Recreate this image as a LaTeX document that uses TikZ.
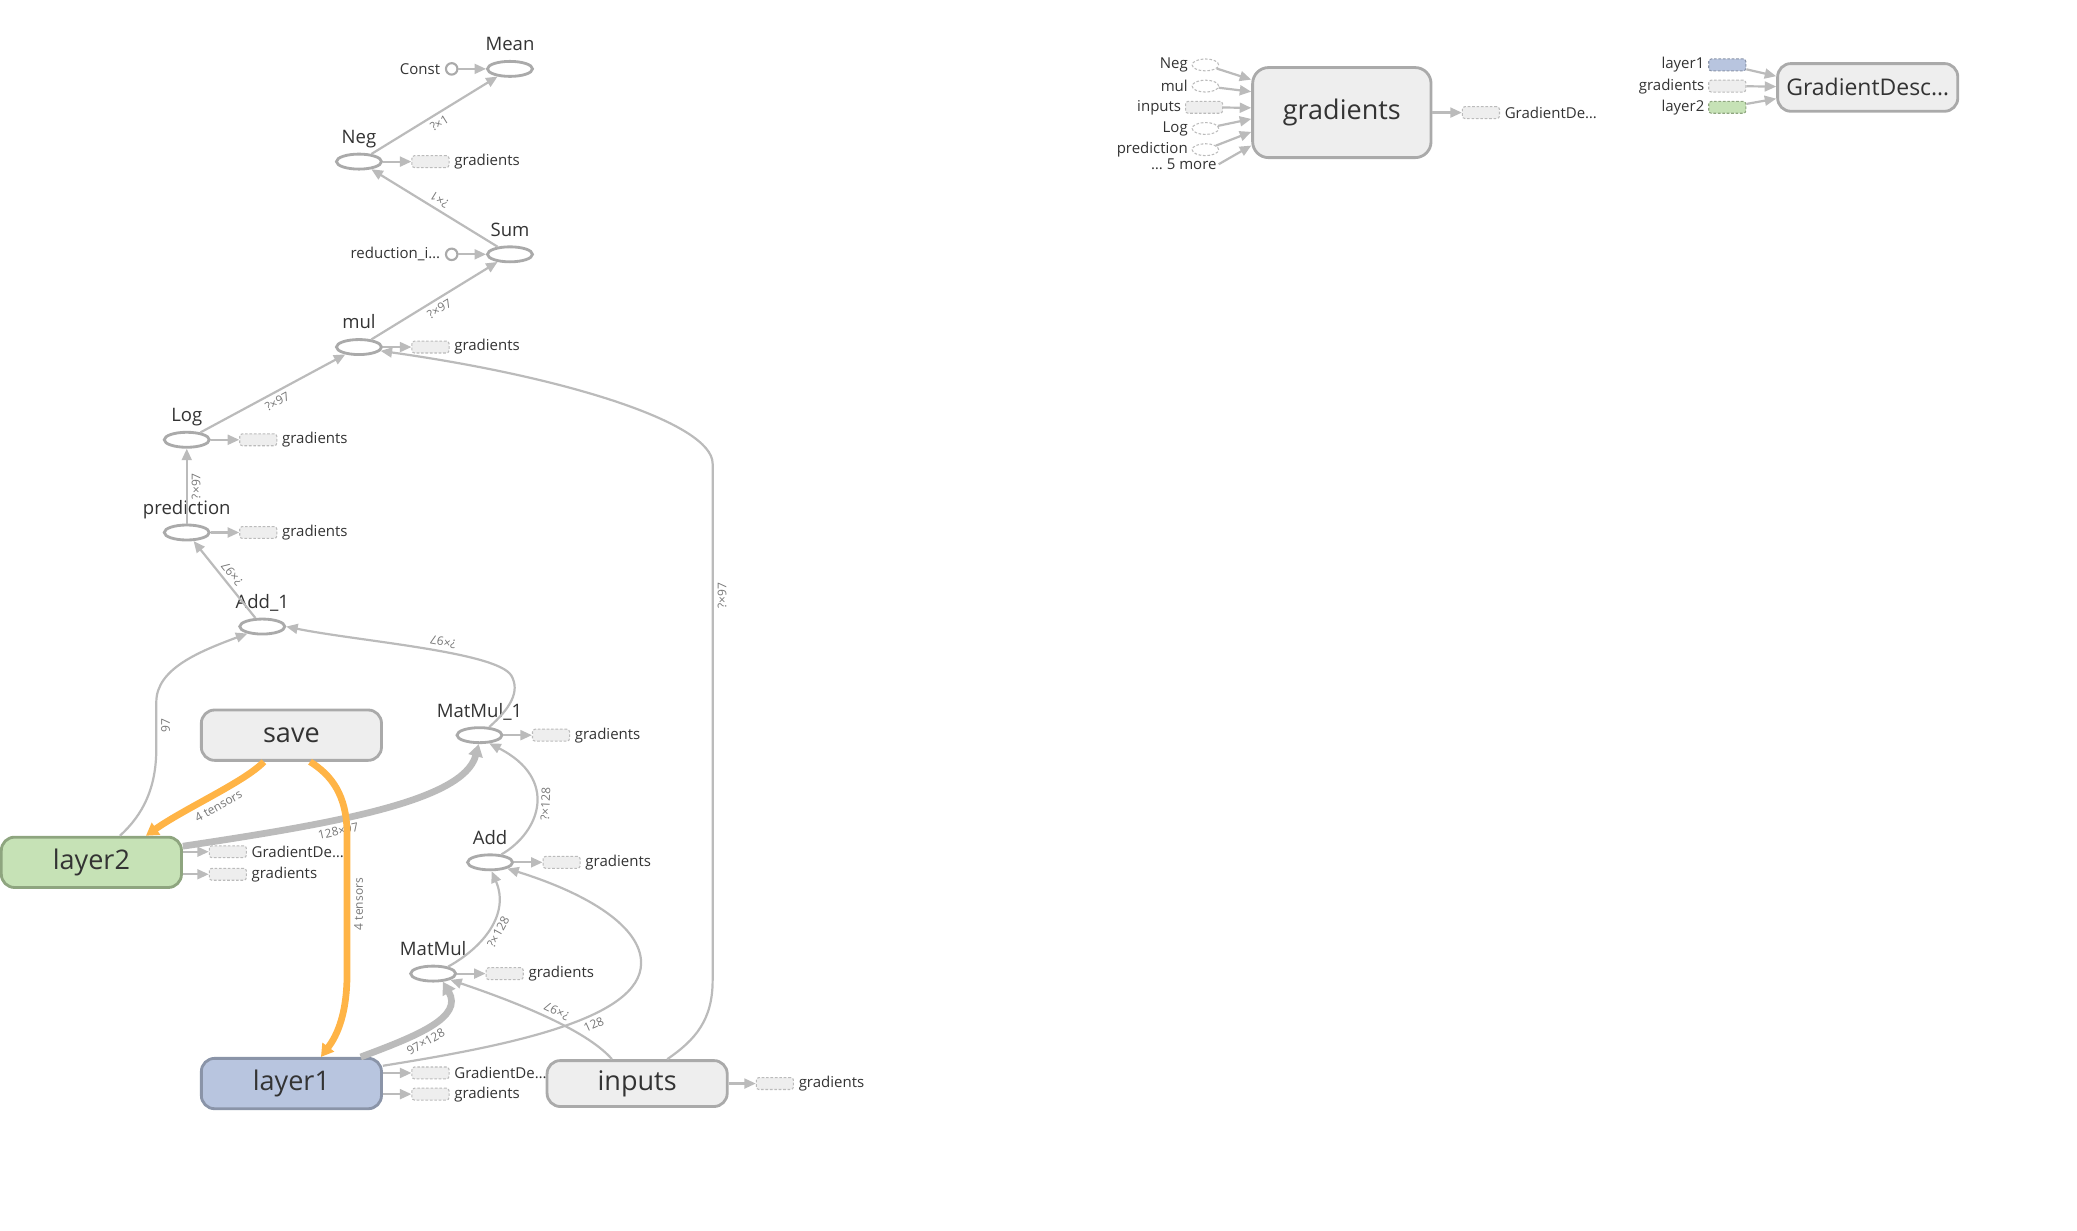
\documentclass[tikz,border=0pt]{standalone}
\usepackage{fontspec}
\setmainfont{Open Sans}
\usepackage{xcolor}
\usepackage{tikz}
\usetikzlibrary{arrows.meta, positioning, shapes.geometric}

\definecolor{edgegray}{HTML}{BBBBBB}
\definecolor{nodegray}{HTML}{AAAAAA}
\definecolor{boxfill}{HTML}{EEEEEE}
\definecolor{txtgray}{HTML}{333333}
\definecolor{labgray}{HTML}{777777}
\definecolor{ctrlorange}{HTML}{FFB446}
\definecolor{l1fill}{HTML}{B8C5DF}
\definecolor{l1line}{HTML}{8A94A8}
\definecolor{l2fill}{HTML}{C6E2B6}
\definecolor{l2line}{HTML}{8EA57F}

\begin{document}
\begin{tikzpicture}[x=0.75pt, y=-0.75pt,
    op/.style={draw=nodegray, ellipse, fill=white, line width=1.6pt, minimum width=25.5pt, minimum height=8.5pt, inner sep=0pt},
    cst/.style={draw=nodegray, circle, fill=white, line width=1.2pt, minimum size=6.5pt, inner sep=0pt},
    grect/.style={draw=nodegray!80, dash pattern=on 1.5pt off 1pt, fill=boxfill, rounded corners=1.5pt, line width=0.6pt, minimum width=21pt, minimum height=6.75pt, inner sep=0pt},
    gell/.style={draw=nodegray!80, dash pattern=on 1.5pt off 1pt, ellipse, fill=white, line width=0.6pt, minimum width=15pt, minimum height=6.75pt, inner sep=0pt},
    grp/.style={draw=nodegray, fill=boxfill, rounded corners=7.5pt, line width=1.6pt, minimum width=102pt, minimum height=28.5pt, font=\fontsize{15.3}{18}\selectfont, text=txtgray},
    ttl/.style={font=\fontsize{10.5}{12}\selectfont, text=txtgray, inner sep=1pt, text depth=0pt},
    sml/.style={font=\fontsize{8.5}{10}\selectfont, text=txtgray, inner sep=1pt},
    flow/.style={draw=edgegray, line width=1.25pt, -{Triangle[length=6.5pt, width=5.6pt]}},
    thk/.style={draw=edgegray, line width=3.8pt, -{Triangle[length=7pt, width=8pt]}},
    ctl/.style={draw=ctrlorange, line width=3.8pt, -{Triangle[length=7pt, width=8pt]}},
    elab/.style={font=\fontsize{6.8}{8}\selectfont, text=labgray, sloped, below, inner sep=2.2pt}
]
    \useasboundingbox (0,0) rectangle (1568,929);

    % === Loss chain (top left) ===
    \node[op] (mean) at (385,52) {};
    \node[ttl, above=4pt of mean] (meanT) {Mean};
    \node[cst] (const) at (341,52) {};
    \node[sml, left=1.5pt of const] (constT) {Const};

    \node[op] (neg) at (271,122) {};
    \node[ttl, above=4pt of neg] (negT) {Neg};
    \node[grect] (negG) at (325,122) {};
    \node[sml, right=1.5pt of negG] (negGT) {gradients};

    \node[op] (sum) at (385,192) {};
    \node[ttl, above=4pt of sum] (sumT) {Sum};
    \node[cst] (redi) at (341,192) {};
    \node[sml, left=1.5pt of redi] (rediT) {reduction\_i…};

    \node[op] (mul) at (271,262) {};
    \node[ttl, above=4pt of mul] (mulT) {mul};
    \node[grect] (mulG) at (325,262) {};
    \node[sml, right=1.5pt of mulG] (mulGT) {gradients};

    \node[op] (log) at (141,332) {};
    \node[ttl, above=4pt of log] (logT) {Log};
    \node[grect] (logG) at (195,332) {};
    \node[sml, right=1.5pt of logG] (logGT) {gradients};

    \node[op] (pred) at (141,402) {};
    \node[ttl, above=4pt of pred] (predT) {prediction};
    \node[grect] (predG) at (195,402) {};
    \node[sml, right=1.5pt of predG] (predGT) {gradients};

    \node[op] (add1) at (198,473) {};
    \node[ttl, above=4pt of add1] (add1T) {Add\_1};

    \draw[flow] (const) -- (mean);
    \draw[flow] (neg) -- node[elab] {?×1} (mean);
    \draw[flow] (neg) -- (negG);
    \draw[flow] (sum) -- node[elab, allow upside down] {?×1} (neg);
    \draw[flow] (redi) -- (sum);
    \draw[flow] (mul) -- node[elab] {?×97} (sum);
    \draw[flow] (mul) -- (mulG);
    \draw[flow] (log) -- node[elab] {?×97} (mul);
    \draw[flow] (log) -- (logG);
    \draw[flow] (pred) -- node[elab] {?×97} (log);
    \draw[flow] (pred) -- (predG);
    \draw[flow] (add1) -- node[elab, allow upside down] {?×97} (pred);

    % === Layers (bottom left) ===
    \node[op] (matmul1) at (362,555) {};
    \node[ttl, above=4pt of matmul1] (matmul1T) {MatMul\_1};
    \node[grect] (matmul1G) at (416,555) {};
    \node[sml, right=1.5pt of matmul1G] (matmul1GT) {gradients};

    \node[op] (add) at (370,651) {};
    \node[ttl, above=4pt of add] (addT) {Add};
    \node[grect] (addG) at (424,651) {};
    \node[sml, right=1.5pt of addG] (addGT) {gradients};

    \node[op] (matmul) at (327,735) {};
    \node[ttl, above=4pt of matmul] (matmulT) {MatMul};
    \node[grect] (matmulG) at (381,735) {};
    \node[sml, right=1.5pt of matmulG] (matmulGT) {gradients};

    \node[grp] (save) at (220,555) {save};
    \node[grp, fill=l2fill, draw=l2line] (layer2) at (69,651) {layer2};
    \node[grp, fill=l1fill, draw=l1line] (layer1) at (220,818) {layer1};
    \node[grp, minimum height=26pt] (inputs) at (481,818) {inputs};

    \node[grect] (l2G1) at (172,643) {};
    \node[sml, right=1.5pt of l2G1] (l2G1T) {GradientDe…};
    \node[grect] (l2G2) at (172,660) {};
    \node[sml, right=1.5pt of l2G2] (l2G2T) {gradients};
    \node[grect] (l1G1) at (325,810) {};
    \node[sml, right=1.5pt of l1G1] (l1G1T) {GradientDe…};
    \node[grect] (l1G2) at (325,826) {};
    \node[sml, right=1.5pt of l1G2] (l1G2T) {gradients};
    \node[grect] (inG) at (585,818) {};
    \node[sml, right=1.5pt of inG] (inGT) {gradients};

    \draw[flow] (matmul1) -- (matmul1G);
    \draw[flow] (add) -- (addG);
    \draw[flow] (matmul) -- (matmulG);
    \draw[flow] (layer2.east |- l2G1) -- (l2G1);
    \draw[flow] (layer2.east |- l2G2) -- (l2G2);
    \draw[flow] (layer1.east |- l1G1) -- (l1G1);
    \draw[flow] (layer1.east |- l1G2) -- (l1G2);
    \draw[flow] (inputs) -- (inG);

    \draw[flow] (matmul1.40) .. controls (385,535) and (393,522) .. (386,510)
        .. controls (375,492) and (270,484) .. (add1.east)
        node[elab, allow upside down, pos=0.42] {?×97};
    \draw[flow] (layer2.43) .. controls (108,615) and (118,595) .. (118,565) -- (118,530)
        node[elab, midway] {97} .. controls (118,505) and (150,492) .. (add1.205);
    \draw[flow] (add.35) .. controls (408,628) and (422,588) .. node[elab] {?×128} (matmul1.-40);
    \draw[flow] (matmul.25) .. controls (365,715) and (385,690) .. node[elab] {?×128} (add.-80);
    \draw[flow] (inputs.136) .. controls (445,780) and (400,760) .. node[elab, allow upside down] {?×97} (matmul.-20);
    \draw[flow] (layer1.11) .. controls (380,790) and (484,770) .. (484,727)
        node[elab, pos=0.62] {128} .. controls (484,700) and (445,675) .. (add.-20);
    \draw[flow] (inputs.39) .. controls (525,785) and (538,770) .. (538,740) -- (538,350)
        node[elab, pos=0.745] {?×97} .. controls (538,320) and (430,285) .. (mul.-10);
    \draw[thk] (layer2.10) .. controls (250,622) and (350,605) .. (matmul1.265)
        node[elab, pos=0.37] {128×97};
    \draw[thk] (layer1.21) .. controls (315,782) and (350,768) .. (matmul.-40)
        node[elab, pos=0.4] {97×128};

    % save -> variables
    \draw[ctl] (save.224) .. controls (185,590) and (140,610) .. node[elab] {4 tensors} (layer2.26);
    \draw[ctl] (save.-55) .. controls (250,585) and (262,600) .. (262,630) -- (262,735)
        node[elab, midway, rotate=180] {4 tensors} .. controls (262,770) and (252,785) .. (layer1.42);

    % === gradients (top right) ===
    \node[grp, minimum width=101pt, minimum height=51pt, rounded corners=9pt] (gbox) at (1013,85) {gradients};
    \node[gell] (rneg) at (910,49) {};
    \node[sml, left=1pt of rneg] (rnegT) {Neg};
    \node[gell] (rmul) at (910,65) {};
    \node[sml, left=1pt of rmul] (rmulT) {mul};
    \node[grect] (rinp) at (909,81) {};
    \node[sml, left=1pt of rinp] (rinpT) {inputs};
    \node[gell] (rlog) at (910,97) {};
    \node[sml, left=1pt of rlog] (rlogT) {Log};
    \node[gell] (rpred) at (910,113) {};
    \node[sml, left=1pt of rpred] (rpredT) {prediction};
    \node[sml, anchor=east] (rmore) at (920,124) {… 5 more};
    \node[grect] (gout) at (1118,85) {};
    \node[sml, right=1.5pt of gout] (goutT) {GradientDe…};

    \draw[flow] (rneg) -- (gbox.160);
    \draw[flow] (rmul) -- (gbox.167);
    \draw[flow] (rinp) -- (gbox.177);
    \draw[flow] (rlog) -- (gbox.184);
    \draw[flow] (rpred) -- (gbox.192);
    \draw[flow] (rmore.east) -- (gbox.200);
    \draw[flow] (gbox) -- (gout);

    % === GradientDescent (far right) ===
    \node[grp, minimum height=27pt, font=\fontsize{13}{15}\selectfont] (gdbox) at (1410,66) {GradientDesc…};
    \node[grect, fill=l1fill, draw=l1line] (dl1) at (1304,49) {};
    \node[sml, left=1pt of dl1] (dl1T) {layer1};
    \node[grect] (dgr) at (1304,65) {};
    \node[sml, left=1pt of dgr] (dgrT) {gradients};
    \node[grect, fill=l2fill, draw=l2line] (dl2) at (1304,81) {};
    \node[sml, left=1pt of dl2] (dl2T) {layer2};

    \draw[flow] (dl1) -- (gdbox.173);
    \draw[flow] (dgr) -- (gdbox);
    \draw[flow] (dl2) -- (gdbox.187);
\end{tikzpicture}
\end{document}
